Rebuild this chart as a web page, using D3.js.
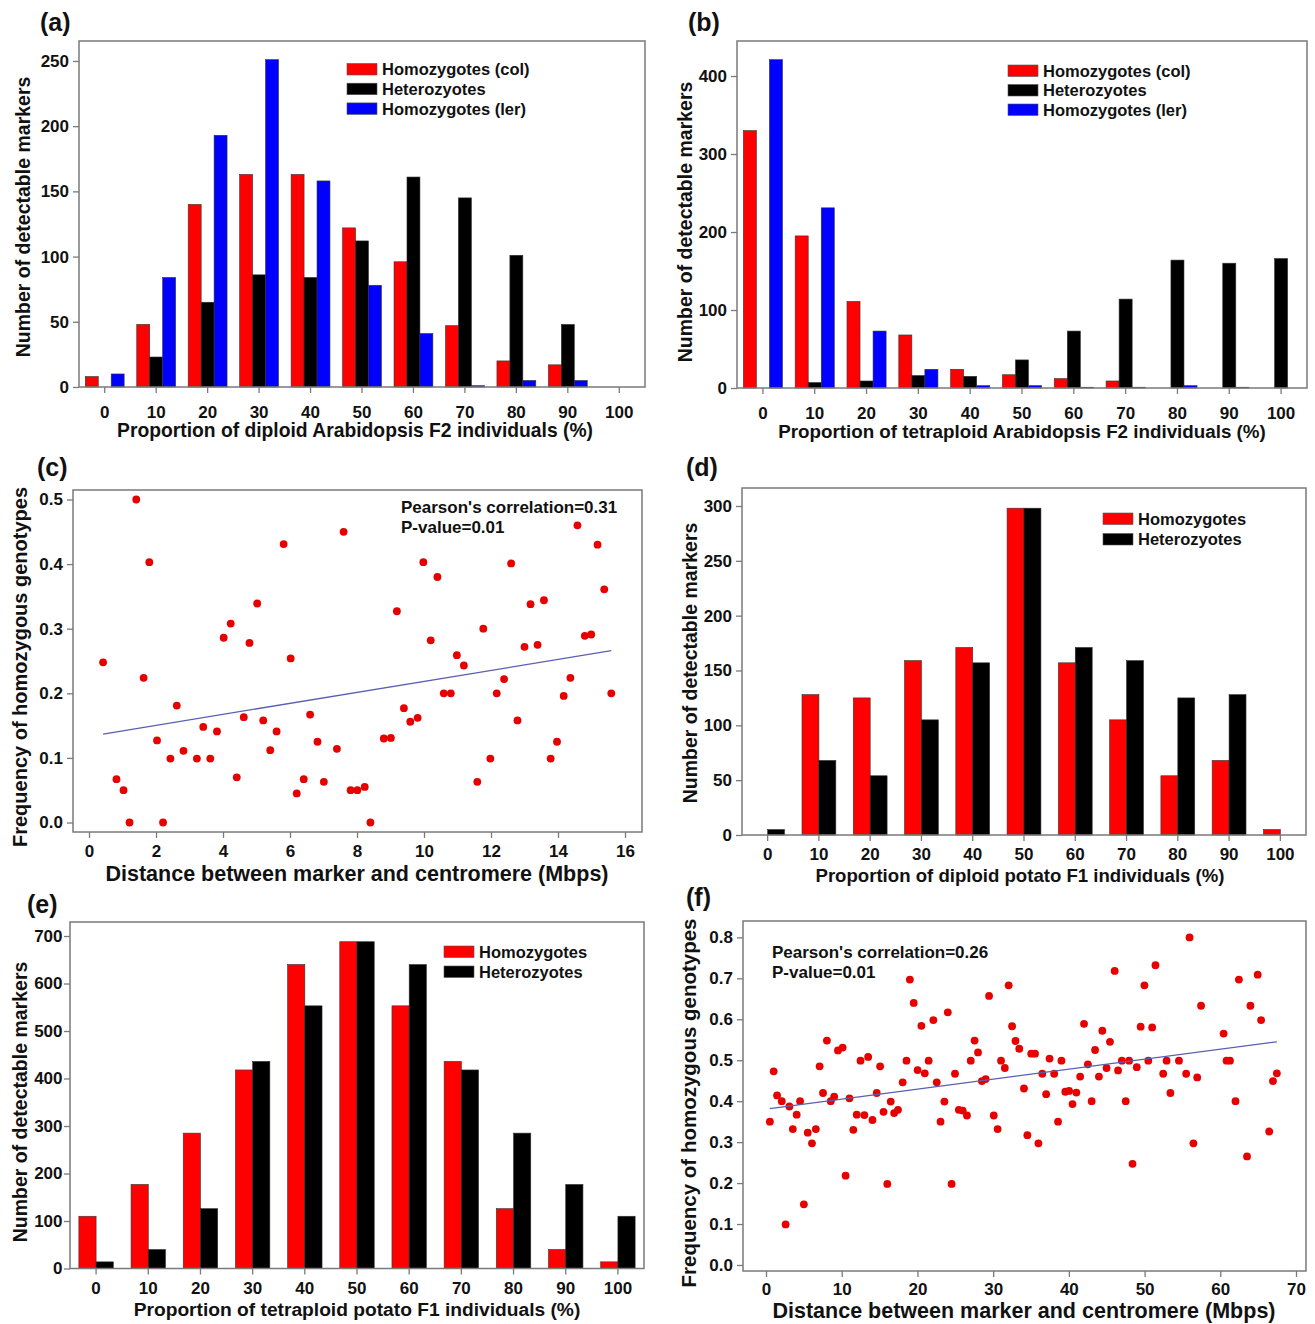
<!DOCTYPE html>
<html>
<head>
<meta charset="utf-8">
<script src="https://cdn.jsdelivr.net/npm/d3@7.9.0/dist/d3.min.js"></script>
<style>
  body { margin: 0; background: #fff; }
  svg text { font-family: "Liberation Sans", Arial, sans-serif; font-weight: bold; fill: #111; }
</style>
</head>
<body>
<svg id="fig" width="1315" height="1324"></svg>
<script>
// proportion classes (%)
const cats = [0, 10, 20, 30, 40, 50, 60, 70, 80, 90, 100];

// (a) diploid Arabidopsis F2
const aCol = [8, 48, 140, 163, 163, 122, 96, 47, 20, 17, 0];
const aHet = [0, 23, 65, 86, 84, 112, 161, 145, 101, 48, 0];
const aLer = [10, 84, 193, 251, 158, 78, 41, 1, 5, 5, 0];

// (b) tetraploid Arabidopsis F2
const bCol = [330, 195, 111, 68, 24, 17, 12, 9, 0, 0, 0];
const bHet = [0, 7, 9, 16, 15, 36, 73, 114, 164, 160, 166];
const bLer = [421, 231, 73, 24, 3, 3, 1, 1, 3, 1, 0];

// (d) diploid potato F1
const dHom = [0, 128, 125, 159, 171, 298, 157, 105, 54, 68, 5];
const dHet = [5, 68, 54, 105, 157, 298, 171, 159, 125, 128, 0];

// (e) tetraploid potato F1
const eHom = [110, 177, 285, 418, 640, 688, 553, 436, 126, 40, 14];
const eHet = [14, 40, 126, 436, 553, 688, 640, 418, 285, 177, 110];

// (c) Arabidopsis: distance (Mbps) vs homozygous frequency
const cX = [0.42, 0.82, 1.03, 1.21, 1.41, 1.63, 1.80, 2.03, 2.21, 2.43, 2.62, 2.82, 3.22, 3.41, 3.62, 3.82,
  4.02, 4.23, 4.41, 4.62, 4.79, 5.02, 5.20, 5.41, 5.60, 5.81, 6.02, 6.20, 6.41, 6.60, 6.82, 7.01, 7.40,
  7.60, 7.81, 8.01, 8.23, 8.40, 8.80, 9.01, 9.19, 9.40, 9.59, 9.81, 9.98, 10.2, 10.4, 10.59, 10.80, 10.98,
  11.19, 11.59, 11.77, 11.98, 12.17, 12.39, 12.60, 12.79, 13.00, 13.18, 13.39, 13.58, 13.78, 13.97, 14.17,
  14.37, 14.58, 14.80, 14.99, 15.18, 15.38, 15.59];
const cY = [0.248, 0.067, 0.050, 0.0, 0.5, 0.224, 0.403, 0.127, 0.0, 0.099, 0.181, 0.111, 0.099, 0.148, 0.099, 0.141,
  0.286, 0.308, 0.070, 0.163, 0.278, 0.339, 0.158, 0.112, 0.141, 0.431, 0.254, 0.045, 0.067, 0.167, 0.125, 0.063, 0.114,
  0.450, 0.050, 0.050, 0.055, 0.0, 0.130, 0.131, 0.327, 0.177, 0.156, 0.162, 0.403, 0.282, 0.380, 0.200, 0.200, 0.259,
  0.243, 0.063, 0.300, 0.099, 0.200, 0.222, 0.401, 0.158, 0.272, 0.338, 0.275, 0.344, 0.099, 0.125, 0.196,
  0.224, 0.460, 0.289, 0.291, 0.430, 0.361, 0.200];
const cFit = [0.1334, 0.0085]; // intercept, slope

// (f) potato: distance (Mbps) vs homozygous frequency
const fX = [0.51, 1.01, 1.46, 2.08, 2.59, 3.09, 3.54, 4.05, 4.50, 5.00, 5.51, 6.07, 6.58, 7.08, 7.53, 8.04, 8.55,
  9.00, 9.50, 10.12, 10.51, 11.02, 11.53, 11.98, 12.48, 12.99, 13.49, 14.06, 14.62, 15.07, 15.52, 16.02, 16.47,
  16.92, 17.43, 18.05, 18.55, 19.0, 19.51, 20.02, 20.52, 20.97, 21.48, 22.10, 22.55, 23.05, 23.56, 24.01, 24.51,
  24.96, 25.47, 25.98, 26.54, 27.04, 27.55, 28.0, 28.51, 29.01, 29.46, 30.08, 30.59, 31.04, 31.54, 32.05, 32.50,
  32.95, 33.45, 34.07, 34.52, 35.03, 35.53, 35.98, 36.49, 37.0, 37.45, 38.06, 38.57, 39.02, 39.53, 40.03, 40.48,
  40.99, 41.49, 42.0, 42.51, 43.01, 43.46, 43.97, 44.42, 44.98, 45.43, 46.05, 46.50, 47.0, 47.51, 47.96, 48.41,
  48.97, 49.48, 49.98, 50.49, 51.0, 51.44, 52.46, 52.91, 53.41, 54.54, 55.49, 55.94, 56.45, 56.95, 57.46, 60.44,
  60.83, 61.28, 62.01, 62.46, 63.53, 63.98, 64.94, 65.39, 66.46, 66.96, 67.47];
const fY = [0.350, 0.473, 0.414, 0.400, 0.099, 0.387, 0.332, 0.367, 0.400, 0.148, 0.323, 0.297, 0.332, 0.485, 0.420, 0.548, 0.400,
  0.411, 0.524, 0.531, 0.218, 0.407, 0.330, 0.367, 0.499, 0.366, 0.508, 0.354, 0.420, 0.485, 0.374, 0.198, 0.399,
  0.371, 0.379, 0.446, 0.499, 0.697, 0.640, 0.476, 0.584, 0.468, 0.499, 0.598, 0.446, 0.350, 0.399, 0.617, 0.198,
  0.467, 0.379, 0.377, 0.365, 0.499, 0.548, 0.519, 0.449, 0.454, 0.657, 0.365, 0.332, 0.499, 0.481, 0.683, 0.583,
  0.547, 0.528, 0.431, 0.317, 0.516, 0.516, 0.297, 0.467, 0.417, 0.504, 0.467, 0.350, 0.499, 0.423, 0.425, 0.393,
  0.421, 0.460, 0.589, 0.490, 0.400, 0.525, 0.460, 0.572, 0.481, 0.545, 0.718, 0.475, 0.499, 0.400, 0.499, 0.247,
  0.483, 0.582, 0.683, 0.499, 0.580, 0.732, 0.467, 0.499, 0.420, 0.499, 0.467, 0.800, 0.297, 0.458, 0.633, 0.565,
  0.499, 0.499, 0.400, 0.697, 0.265, 0.633, 0.709, 0.598, 0.326, 0.449, 0.468];
const fFit = [0.3808, 0.002434];

const lab3 = ['Homozygotes (col)', 'Heterozyotes', 'Homozygotes (ler)'];
const lab2 = ['Homozygotes', 'Heterozyotes'];
const col3 = ['#ff0000', '#000000', '#0000ff'];
const col2 = ['#ff0000', '#000000'];

const svg = d3.select('#fig');
const frame = '#7a7a7a';

function styleAxis(g, fs) {
  g.select('.domain').remove();
  g.selectAll('.tick line').attr('stroke', frame).attr('stroke-width', 1.3);
  g.selectAll('.tick text').style('font-size', fs + 'px').attr('fill', '#111');
}

function titles(p) {
  svg.append('text').attr('x', p.xt[0]).attr('y', p.xt[1]).attr('text-anchor', 'middle')
    .style('font-size', p.xtSize + 'px').text(p.xTitle);
  svg.append('text').attr('transform', `translate(${p.yt[0]},${p.yt[1]}) rotate(-90)`)
    .attr('text-anchor', 'middle').attr('dy', '0.35em')
    .style('font-size', p.ytSize + 'px').text(p.yTitle);
  svg.append('text').attr('x', p.letter[0]).attr('y', p.letter[1])
    .style('font-size', '25px').text(p.tag);
}

function barPanel(p) {
  const [x0, x1, y0, y1] = p.box;
  const x = d3.scaleBand().domain(cats).range([x0, x1]);
  const gw = x.bandwidth() * p.frac;
  const xs = d3.scaleBand().domain(d3.range(p.values.length))
    .range([(x.bandwidth() - gw) / 2, (x.bandwidth() + gw) / 2]);
  const y = d3.scaleLinear().domain([0, p.ymax]).range([y1, y0]);

  p.values.forEach((vals, i) => {
    svg.append('g').selectAll('rect')
      .data(cats.map((c, j) => ({ c, v: vals[j] })).filter(d => d.v > 0))
      .join('rect')
      .attr('x', d => x(d.c) + xs(i))
      .attr('y', d => y(d.v))
      .attr('width', xs.bandwidth())
      .attr('height', d => y(0) - y(d.v))
      .attr('fill', p.colors[i])
      .attr('stroke', '#333')
      .attr('stroke-width', 0.6);
  });

  const gx = svg.append('g').attr('transform', `translate(0,${y1})`)
    .call(d3.axisBottom(x).tickSize(6).tickPadding(p.xPad));
  styleAxis(gx, 17);
  const gy = svg.append('g').attr('transform', `translate(${x0},0)`)
    .call(d3.axisLeft(y).tickValues(p.yTicks).tickSize(6).tickPadding(p.yPad));
  styleAxis(gy, 17);

  svg.append('rect').attr('x', x0).attr('y', y0).attr('width', x1 - x0).attr('height', y1 - y0)
    .attr('fill', 'none').attr('stroke', frame).attr('stroke-width', 1.5);

  p.labels.forEach((l, i) => {
    const ly = p.leg[1] + i * p.leg[2];
    svg.append('rect').attr('x', p.leg[0]).attr('y', ly).attr('width', 30).attr('height', 11.5)
      .attr('fill', p.colors[i]).attr('stroke', '#555').attr('stroke-width', 0.6);
    svg.append('text').attr('x', p.leg[0] + 35).attr('y', ly + 11.8)
      .style('font-size', '16.5px').text(l);
  });
  titles(p);
}

function scatterPanel(p) {
  const [x0, x1, y0, y1] = p.box;
  const x = d3.scaleLinear().domain(p.xdom).range([x0, x1]);
  const y = d3.scaleLinear().domain(p.ydom).range([y1, y0]);

  const gx = svg.append('g').attr('transform', `translate(0,${y1})`)
    .call(d3.axisBottom(x).tickValues(p.xTicks).tickFormat(d3.format('d')).tickSize(6).tickPadding(p.xPad));
  styleAxis(gx, 17);
  const gy = svg.append('g').attr('transform', `translate(${x0},0)`)
    .call(d3.axisLeft(y).tickValues(p.yTicks).tickFormat(d3.format('.1f')).tickSize(6).tickPadding(4));
  styleAxis(gy, 17);

  svg.append('rect').attr('x', x0).attr('y', y0).attr('width', x1 - x0).attr('height', y1 - y0)
    .attr('fill', 'none').attr('stroke', frame).attr('stroke-width', 1.5);

  svg.append('g').selectAll('circle')
    .data(p.xs.map((v, i) => [v, p.ys[i]]))
    .join('circle')
    .attr('cx', d => x(d[0])).attr('cy', d => y(d[1])).attr('r', 3.9)
    .attr('fill', '#e60000');

  const ext = d3.extent(p.xs);
  svg.append('line')
    .attr('x1', x(ext[0])).attr('y1', y(p.fit[0] + p.fit[1] * ext[0]))
    .attr('x2', x(ext[1])).attr('y2', y(p.fit[0] + p.fit[1] * ext[1]))
    .attr('stroke', '#5b5fb0').attr('stroke-width', 1.3);

  p.note.forEach((t, i) => {
    svg.append('text').attr('x', p.noteAt[0]).attr('y', p.noteAt[1] + i * 20)
      .style('font-size', '17px').text(t);
  });
  titles(p);
}

barPanel({
  tag: '(a)', letter: [40, 31], box: [79, 645, 41, 387], ymax: 265.3,
  yTicks: d3.range(0, 251, 50), values: [aCol, aHet, aLer], colors: col3, labels: lab3,
  frac: 0.755, xPad: 13, yPad: 4, leg: [347, 63.5, 19.7],
  xTitle: 'Proportion of diploid Arabidopsis F2 individuals (%)', xt: [355, 437], xtSize: 19.3,
  yTitle: 'Number of detectable markers', yt: [23, 217], ytSize: 19.5
});

barPanel({
  tag: '(b)', letter: [688, 31], box: [737, 1307, 41, 388], ymax: 444.9,
  yTicks: d3.range(0, 401, 100), values: [bCol, bHet, bLer], colors: col3, labels: lab3,
  frac: 0.755, xPad: 13, yPad: 4, leg: [1008, 65, 19.5],
  xTitle: 'Proportion of tetraploid Arabidopsis F2 individuals (%)', xt: [1022, 438], xtSize: 18.8,
  yTitle: 'Number of detectable markers', yt: [685, 222], ytSize: 19.5
});

scatterPanel({
  tag: '(c)', letter: [37, 476], box: [73, 642, 490, 832],
  xdom: [-0.478, 16.507], ydom: [-0.0147, 0.5147],
  xTicks: d3.range(0, 17, 2), yTicks: [0, 0.1, 0.2, 0.3, 0.4, 0.5], xPad: 7,
  xs: cX, ys: cY, fit: cFit,
  note: ["Pearson's correlation=0.31", 'P-value=0.01'], noteAt: [401, 513],
  xTitle: 'Distance between marker and centromere (Mbps)', xt: [357, 881], xtSize: 21.5,
  yTitle: 'Frequency of homozygous genotypes', yt: [20, 667], ytSize: 20
});

barPanel({
  tag: '(d)', letter: [686, 476], box: [742, 1306, 488, 835], ymax: 316.4,
  yTicks: d3.range(0, 301, 50), values: [dHom, dHet], colors: col2, labels: lab2,
  frac: 0.66, xPad: 7, yPad: 4, leg: [1103, 513, 20.5],
  xTitle: 'Proportion of diploid potato F1 individuals (%)', xt: [1020, 882], xtSize: 18.6,
  yTitle: 'Number of detectable markers', yt: [690, 663], ytSize: 19.5
});

barPanel({
  tag: '(e)', letter: [27, 913], box: [70, 644, 922, 1268.5], ymax: 729.5,
  yTicks: d3.range(0, 701, 100), values: [eHom, eHet], colors: col2, labels: lab2,
  frac: 0.66, xPad: 7.5, yPad: 1.5, leg: [444, 946, 20],
  xTitle: 'Proportion of tetraploid potato F1 individuals (%)', xt: [357, 1316], xtSize: 19.2,
  yTitle: 'Number of detectable markers', yt: [20, 1102], ytSize: 19.5
});

scatterPanel({
  tag: '(f)', letter: [686, 906], box: [743, 1306, 921, 1271],
  xdom: [-3.04, 71.32], ydom: [-0.0147, 0.840],
  xTicks: d3.range(0, 71, 10), yTicks: d3.range(0, 0.81, 0.1), xPad: 6,
  xs: fX, ys: fY, fit: fFit,
  note: ["Pearson's correlation=0.26", 'P-value=0.01'], noteAt: [772, 958],
  xTitle: 'Distance between marker and centromere (Mbps)', xt: [1024, 1318], xtSize: 21.5,
  yTitle: 'Frequency of homozygous genotypes', yt: [689, 1103], ytSize: 20.5
});
</script>
</body>
</html>
